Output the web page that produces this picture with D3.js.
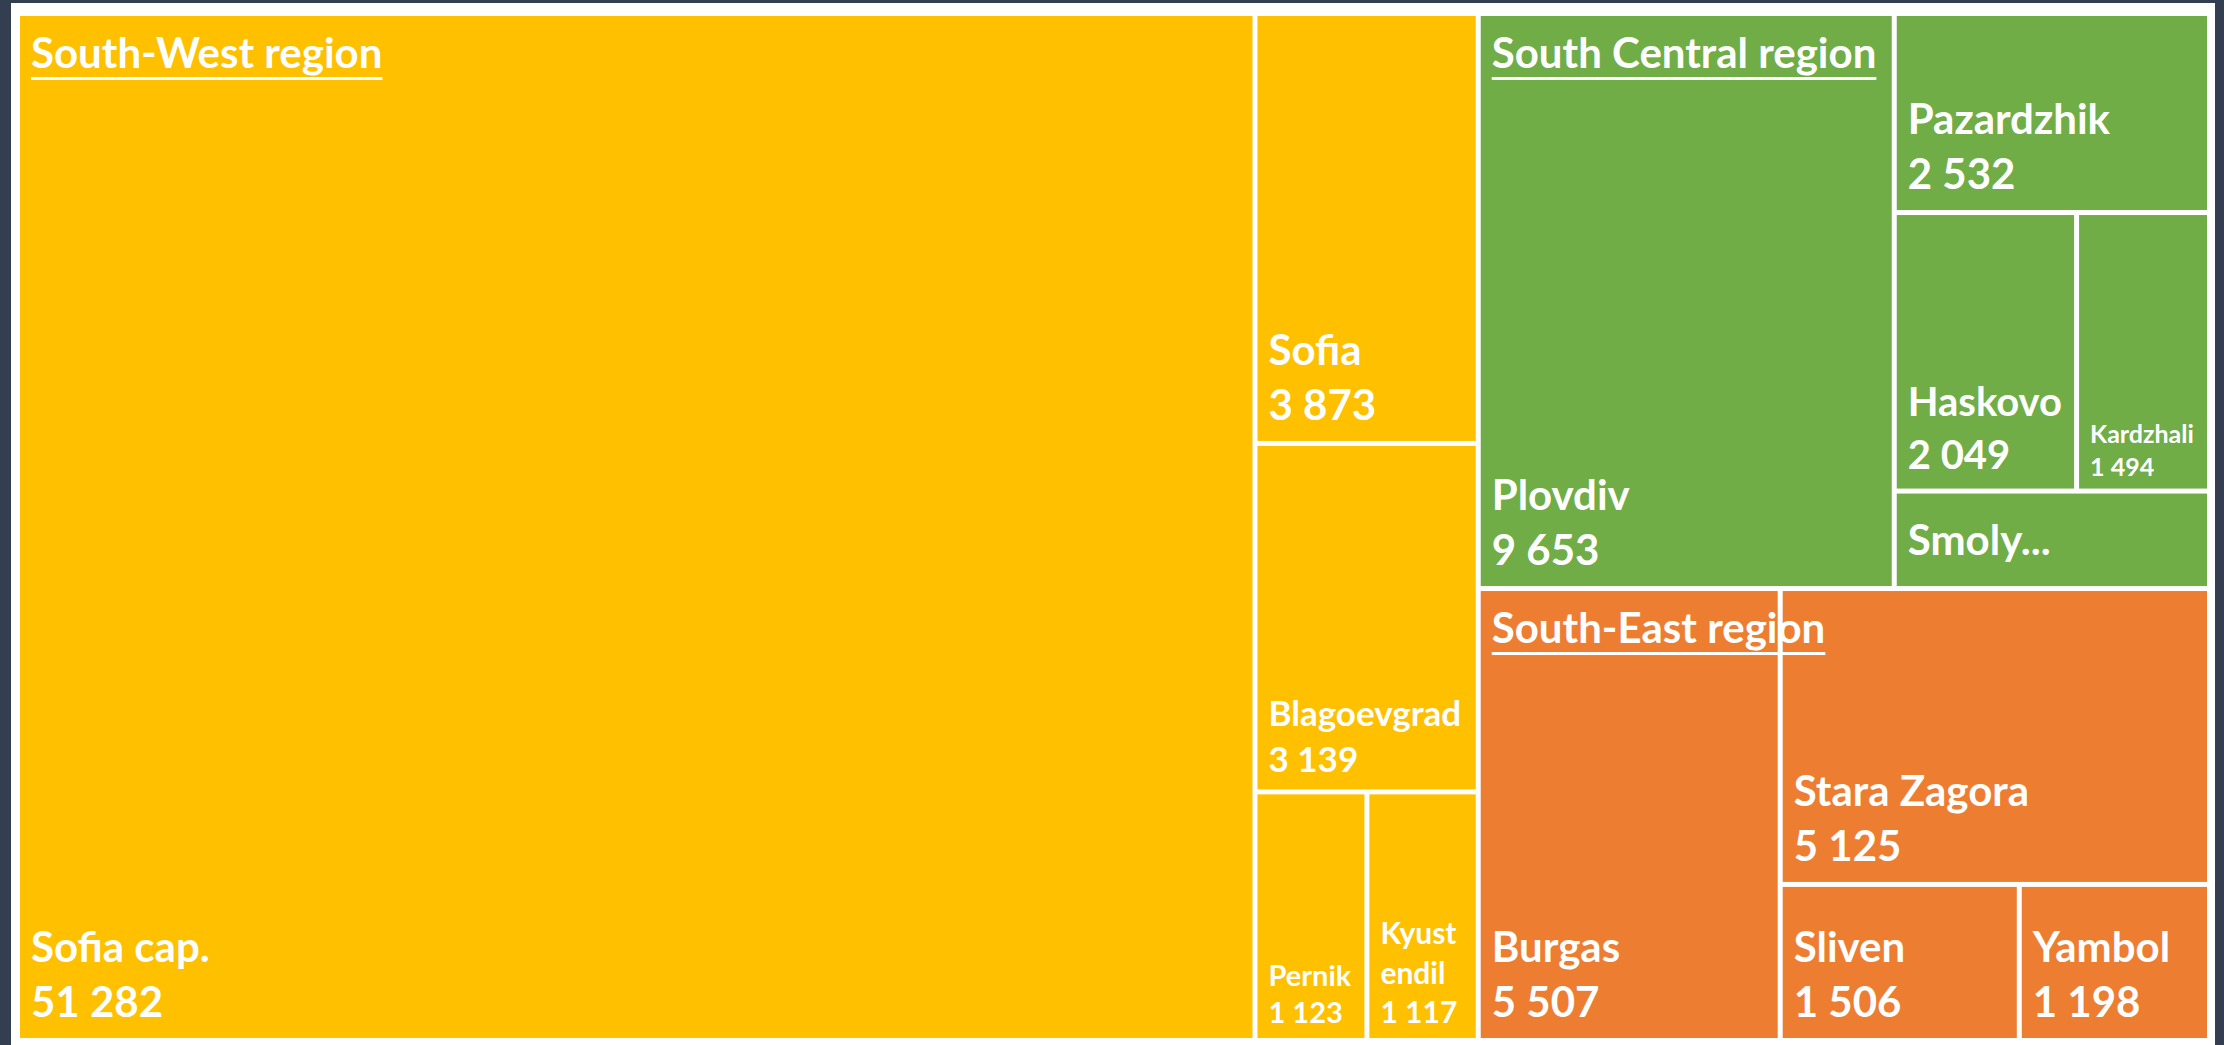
<!DOCTYPE html>
<html>
<head>
<meta charset="utf-8">
<script src="https://cdn.jsdelivr.net/npm/d3@7"></script>
<style>
    body { margin: 0; background: #333f50; }
    svg { display: block; }
    text { font-family: Lato, "Open Sans", sans-serif; font-weight: 700; fill: #fff; }
</style>
</head>
<body>
<svg id="treemap_svg" width="2224" height="1045"></svg>
<script>
// regions and their colours
var regions = ["South-West region", "South Central region", "South-East region"];
var region_colors = ["#ffc000", "#70ad47", "#ed7d31"];

// districts, region index, values
var districts = ["Sofia cap.", "Sofia", "Blagoevgrad", "Pernik", "Kyustendil",
                 "Plovdiv", "Pazardzhik", "Haskovo", "Kardzhali", "Smolyan",
                 "Burgas", "Stara Zagora", "Sliven", "Yambol"];
var district_region = [0, 0, 0, 0, 0, 1, 1, 1, 1, 1, 2, 2, 2, 2];
var values = [51282, 3873, 3139, 1123, 1117, 9653, 2532, 2049, 1494, 1240, 5507, 5125, 1506, 1198];

//-------------------------------------------------------------------------------------------------------------------------
var svg = d3.select("#treemap_svg");
var margin = {top: 16, left: 20, bottom: 7, right: 17};
var width = 2224 - margin.left - margin.right;
var height = 1045 - margin.top - margin.bottom;

// white frame
svg.append("rect")
    .attr("x", 11).attr("y", 3)
    .attr("width", 2215 - 11).attr("height", 1045 - 3)
    .attr("fill", "#fff");

var fmt = d3.formatLocale({decimal: ",", thousands: " ", grouping: [3], currency: ["", ""]}).format(",d");

var tree = {
    name: "root",
    children: regions.map(function(r, i) {
        return {
            name: r, idx: i,
            children: districts.map(function(d, j) { return {name: d, value: values[j], region: district_region[j]}; })
                .filter(function(d) { return d.region == i; })
        };
    })
};

var root = d3.hierarchy(tree)
    .sum(function(d) { return d.value || 0; })
    .sort(function(a, b) { return b.value - a.value; });

d3.treemap()
    .size([width, height])
    .paddingInner(5)
    .tile(d3.treemapSquarify.ratio(1.2))(root);

var g = svg.append("g").attr("transform", `translate(${margin.left},${margin.top})`);

var leaves = g.selectAll("g.leaf")
    .data(root.leaves())
    .enter().append("g")
    .attr("class", "leaf")
    .attr("transform", d => `translate(${d.x0},${d.y0})`);

leaves.append("rect")
    .attr("width", d => d.x1 - d.x0)
    .attr("height", d => d.y1 - d.y0)
    .attr("fill", d => region_colors[d.data.region]);

//-----------------------------------------------------------------------------
// label fitting, roughly like the office treemap does it
var pad = 11, max_font = 42, min_font = 22, wrap_font = 30;
var probe = svg.append("text").attr("x", -1000).attr("y", -1000);
function measure(txt, size) {
    probe.attr("font-size", size).text(txt);
    return probe.node().getComputedTextLength();
}

leaves.each(function(d) {
    var w = d.x1 - d.x0 - 2 * pad, h = d.y1 - d.y0;
    var name = d.data.name;
    var size = Math.min(max_font, Math.floor(max_font * w / measure(name, max_font)));
    var lines;
    if (size >= min_font) {
        lines = [name];
    } else {
        // break the word where it runs out of room
        size = wrap_font;
        lines = [];
        var cur = "";
        name.split("").forEach(function(c) {
            if (cur && measure(cur + c, size) > w) { lines.push(cur); cur = c; }
            else cur += c;
        });
        lines.push(cur);
    }
    lines.push(fmt(d.value));

    var step = 1.31 * size;
    var needed = 0.5 * size + (lines.length - 1) * step + 0.8 * size;
    var sel = d3.select(this);
    if (needed > h) {
        // only one line fits: shortened name, centred in height
        var short = name.length > 6 ? name.slice(0, 5) + "..." : name;
        sel.append("text")
            .attr("x", pad)
            .attr("y", h / 2 + 0.36 * size)
            .attr("font-size", size)
            .text(short);
        return;
    }
    var base = h - 0.5 * size;
    sel.selectAll("text")
        .data(lines)
        .enter().append("text")
        .attr("x", pad)
        .attr("y", (t, i) => base - (lines.length - 1 - i) * step)
        .attr("font-size", size)
        .text(t => t);
});

//-----------------------------------------------------------------------------
// region headers, drawn on top, underlined
var heads = g.selectAll("g.head")
    .data(root.children)
    .enter().append("g")
    .attr("class", "head")
    .attr("transform", d => `translate(${d.x0 + pad},${d.y0 + 52})`);

heads.append("text")
    .attr("font-size", max_font)
    .text(d => d.data.name);

heads.append("rect")
    .attr("y", 9)
    .attr("height", 3)
    .attr("width", function() { return this.parentNode.querySelector("text").getComputedTextLength(); })
    .attr("fill", "#fff");

probe.remove();
</script>
</body>
</html>
